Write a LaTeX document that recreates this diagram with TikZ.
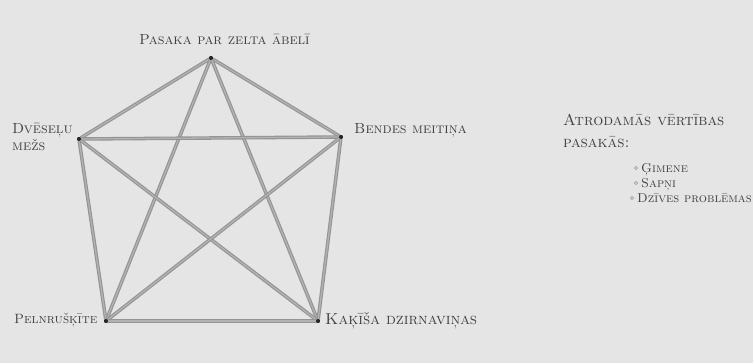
\documentclass[tikz,border=0pt]{standalone}
\begin{document}
\begin{tikzpicture}[x=0.03cm,y=-0.03cm,
  vtx/.style={circle,fill=black!85,inner sep=0pt,minimum size=3.4pt},
  pencil/.style={draw=black!42,line width=3pt,line cap=round,
     postaction={draw=black!30,line width=1.1pt}},
  lbl/.style={inner sep=0pt,text=black!75,font=\fontsize{12.5}{14}\selectfont\scshape},
  blt/.style={circle,draw=black!35,fill=black!20,inner sep=0pt,minimum size=3pt}]
\fill[black!10] (0,0) rectangle (753,363);
\useasboundingbox (0,0) rectangle (753,363);
% vertices
\node[vtx] (T) at (211,58) {};
\node[vtx] (L) at (79,139) {};
\node[vtx] (R) at (341,137) {};
\node[vtx] (BL) at (106,321) {};
\node[vtx] (BR) at (318,321) {};
% edges
\foreach \a/\b in {T/L,T/R,T/BL,T/BR,L/R,L/BL,L/BR,R/BL,R/BR,BL/BR}
  \draw[pencil] (\a) -- (\b);
\foreach \n in {T,L,R,BL,BR} \node[vtx] at (\n) {};
% labels
\node[lbl,anchor=base west] (tT) at (139,44) {Pasaka par zelta ābelī};
\node[lbl,anchor=base west] (tL1) at (12,133) {Dvēseļu};
\node[lbl,anchor=base west] (tL2) at (12,150) {mežs};
\node[lbl,anchor=base west] (tR) at (354,133) {Bendes meitiņa};
\node[lbl,anchor=base west,font=\fontsize{11.5}{13}\selectfont\scshape] (tBL) at (14,323) {Pelnrušķīte};
\node[lbl,anchor=base west,font=\fontsize{13.5}{15}\selectfont\scshape] (tBR) at (325,324) {Kaķīša dzirnaviņas};
\node[lbl,anchor=base west,font=\fontsize{13.5}{15}\selectfont\scshape] (h1) at (563,125) {Atrodamās vērtības};
\node[lbl,anchor=base west,font=\fontsize{13.5}{15}\selectfont\scshape] (h2) at (563,147) {pasakās:};
\node[lbl,anchor=base west,font=\fontsize{11}{13}\selectfont\scshape] (b1) at (641,172) {Ģimene};
\node[lbl,anchor=base west,font=\fontsize{11}{13}\selectfont\scshape] (b2) at (641,187) {Sapņi};
\node[lbl,anchor=base west,font=\fontsize{11}{13}\selectfont\scshape] (b3) at (637,202) {Dzīves problēmas};
\node[blt] at (636,168) {};
\node[blt] at (636,183) {};
\node[blt] at (632,198) {};
\end{tikzpicture}
\end{document}
